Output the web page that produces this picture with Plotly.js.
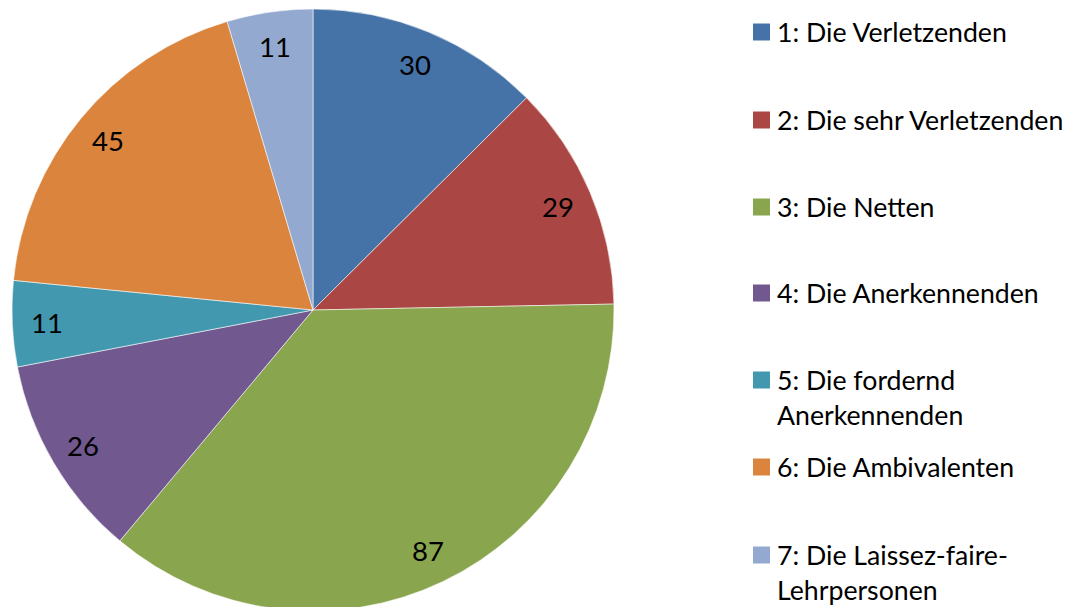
<!DOCTYPE html>
<html><head><meta charset="utf-8">
<script src="https://cdn.plot.ly/plotly-3.0.1.min.js"></script>
<style>html,body{margin:0;padding:0;overflow:hidden;background:#fff}#chart{width:1078px;height:620px}</style>
</head><body><div id="chart"></div>
<script>
const categories = ["1: Die Verletzenden","2: Die sehr Verletzenden","3: Die Netten","4: Die Anerkennenden","5: Die fordernd<br>Anerkennenden","6: Die Ambivalenten","7: Die Laissez-faire-<br>Lehrpersonen"];
const values = [30,29,87,26,11,45,11];
const colors = ["#4572A7","#AA4643","#89A54E","#71588F","#4198AF","#DB843D","#93A9CF"];

const W = 1078, H = 620;
const FONT = "Lato, Open Sans, sans-serif";
const cx = 313, cy = 310, R = 301;
const px = x => x / W, py = y => 1 - y / H;

const annotations = [];
const shapes = [];
const total = values.reduce((a,b)=>a+b,0);
let cum = 0;
values.forEach((v,i)=>{
  const mid = (cum + v/2) / total * 2 * Math.PI;
  cum += v;
  const r = 0.885 * R;
  annotations.push({x: px(cx + r*Math.sin(mid)), y: py(cy - r*Math.cos(mid)), xref:'paper', yref:'paper',
    text: String(v), showarrow:false, xanchor:'center', yanchor:'middle', font:{family:FONT, size:27.5, color:'#000'}});
});
const legendY = [32, 120, 207, 293, 380, 467, 555];
const lineGap = 35;
categories.forEach((c,i)=>{
  const y0 = legendY[i];
  shapes.push({type:'rect', xref:'paper', yref:'paper', x0:px(753), x1:px(770), y0:py(y0-8.5), y1:py(y0+8.5),
    fillcolor: colors[i], line:{width:0}});
  c.split('<br>').forEach((ln,j)=>{
    annotations.push({x:px(775), y:py(y0 + j*lineGap), xref:'paper', yref:'paper', text: ln, showarrow:false,
      xanchor:'left', yanchor:'middle', font:{family:FONT, size:26.7, color:'#000'}});
  });
});

const data = [{
  type:'pie', values: values, labels: categories, sort:false, direction:'clockwise', rotation:0,
  marker:{colors: colors, line:{color:'rgba(255,255,255,0.7)', width:0.8}},
  textinfo:'none', hoverinfo:'label+value',
  domain:{x:[(cx-R)/W, (cx+R)/W], y:[1-(cy+R)/H, 1-(cy-R)/H]}
}];
const layout = {width:W, height:H, margin:{l:0,r:0,t:0,b:0}, showlegend:false,
  paper_bgcolor:'#fff', annotations: annotations, shapes: shapes};
Plotly.newPlot('chart', data, layout, {displayModeBar:false, staticPlot:true});
</script></body></html>
